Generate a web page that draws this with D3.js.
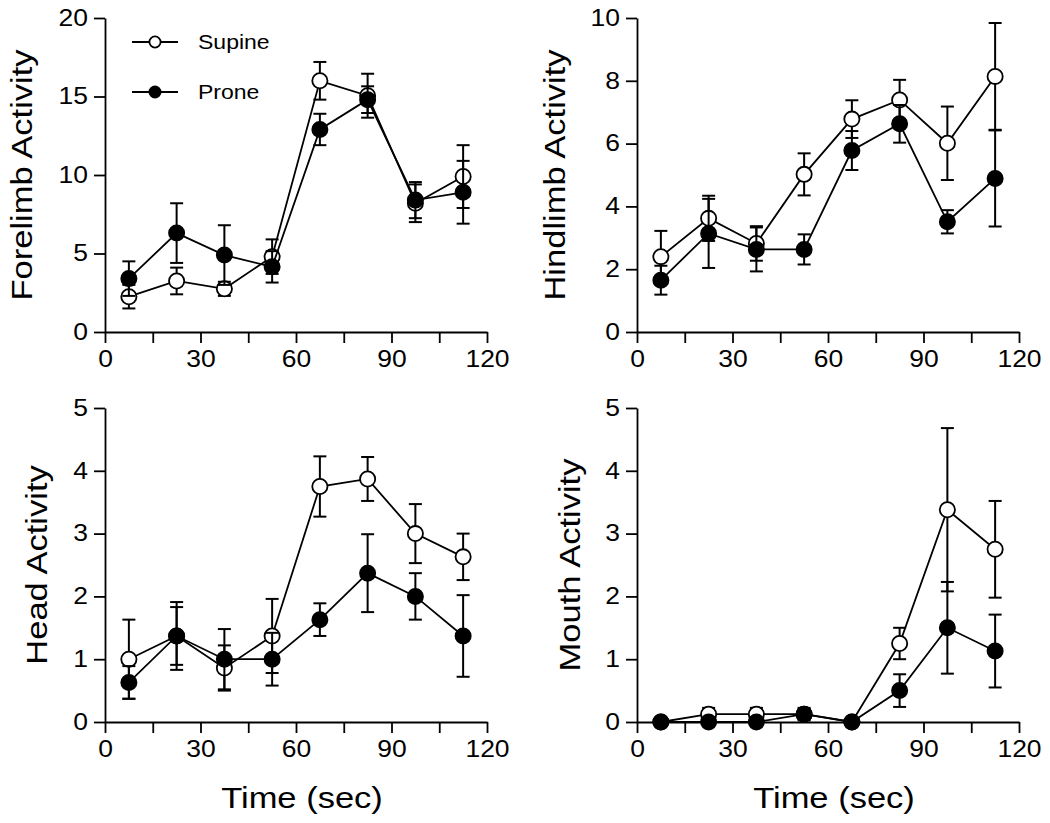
<!DOCTYPE html>
<html>
<head>
<meta charset="utf-8">
<script src="https://cdn.jsdelivr.net/npm/d3@7"></script>
<style>
  html, body { margin: 0; padding: 0; background: #fff; }
  svg { display: block; font-family: "Liberation Sans", Arial, Helvetica, sans-serif; }
</style>
</head>
<body>
<svg id="chart" width="1050" height="823"></svg>
<script>
// ---- data ----
const times = [7.5, 22.5, 37.5, 52.5, 67.5, 82.5, 97.5, 112.5];
const xTicks = [0, 15, 30, 45, 60, 75, 90, 105, 120];
const seriesNames = ["Supine", "Prone"];

const forelimbSupine    = [2.25, 3.25, 2.75, 4.8, 16.0, 15.05, 8.2, 9.9];
const forelimbSupineErr = [0.75, 0.85, 0.45, 1.1, 1.2, 1.4, 1.2, 2.0];
const forelimbProne     = [3.4, 6.3, 4.9, 4.15, 12.9, 14.8, 8.4, 8.9];
const forelimbProneErr  = [1.1, 1.9, 1.9, 1.0, 1.0, 0.85, 1.15, 2.0];
const forelimbTicks = [0, 5, 10, 15, 20];

const hindSupine    = [2.4, 3.62, 2.82, 5.02, 6.78, 7.39, 6.01, 8.14];
const hindSupineErr = [0.82, 0.72, 0.55, 0.67, 0.6, 0.64, 1.17, 1.7];
const hindProne     = [1.65, 3.14, 2.63, 2.63, 5.78, 6.63, 3.51, 4.89];
const hindProneErr  = [0.46, 1.1, 0.7, 0.48, 0.62, 0.6, 0.37, 1.53];
const hindTicks = [0, 2, 4, 6, 8, 10];

const headSupine    = [1.0, 1.37, 0.86, 1.37, 3.75, 3.87, 3.0, 2.63];
const headSupineErr = [0.63, 0.54, 0.36, 0.59, 0.48, 0.35, 0.47, 0.37];
const headProne     = [0.63, 1.37, 1.0, 1.0, 1.63, 2.37, 2.0, 1.37];
const headProneErr  = [0.26, 0.46, 0.48, 0.42, 0.26, 0.62, 0.37, 0.65];
const headTicks = [0, 1, 2, 3, 4, 5];

const mouthSupine    = [0, 0.125, 0.125, 0.125, 0, 1.25, 3.38, 2.75];
const mouthSupineErr = [0, 0.1, 0.1, 0.1, 0, 0.25, 1.3, 0.77];
const mouthProne     = [0, 0, 0, 0.125, 0, 0.5, 1.5, 1.13];
const mouthProneErr  = [0, 0, 0, 0.08, 0, 0.26, 0.73, 0.58];
const mouthTicks = [0, 1, 2, 3, 4, 5];

const panels = [
  {title: "Forelimb Activity", sup: forelimbSupine, supE: forelimbSupineErr, pro: forelimbProne, proE: forelimbProneErr, ticks: forelimbTicks, left: 105, top: 18, titleX: 32, xTitle: false, legend: true},
  {title: "Hindlimb Activity", sup: hindSupine, supE: hindSupineErr, pro: hindProne, proE: hindProneErr, ticks: hindTicks, left: 637, top: 18, titleX: 565, xTitle: false, legend: false},
  {title: "Head Activity", sup: headSupine, supE: headSupineErr, pro: headProne, proE: headProneErr, ticks: headTicks, left: 105, top: 408, titleX: 47, xTitle: true, legend: false},
  {title: "Mouth Activity", sup: mouthSupine, supE: mouthSupineErr, pro: mouthProne, proE: mouthProneErr, ticks: mouthTicks, left: 637, top: 408, titleX: 580, xTitle: true, legend: false}
];

const W = 382, H = 314;
const svg = d3.select("#chart");
const LW = 1.8;

panels.forEach(p => {
  const g = svg.append("g").attr("transform", `translate(${p.left},${p.top})`);
  const x = d3.scaleLinear().domain([0, 120]).range([0, W]);
  const yMax = p.ticks[p.ticks.length - 1];
  const y = d3.scaleLinear().domain([0, yMax]).range([H, 0]);

  const xAxis = d3.axisBottom(x).tickValues(xTicks)
    .tickFormat(d => d % 30 === 0 ? d : "")
    .tickSize(11).tickSizeOuter(0).tickPadding(8);
  const yAxis = d3.axisLeft(y).tickValues(p.ticks)
    .tickFormat(d3.format("d"))
    .tickSize(11).tickSizeOuter(0).tickPadding(6);

  const gx = g.append("g").attr("transform", `translate(0,${H})`).call(xAxis);
  const gy = g.append("g").call(yAxis);
  [gx, gy].forEach(a => {
    a.selectAll("path, line").attr("stroke", "#000").attr("stroke-width", LW);
    a.selectAll("text").attr("font-size", 23).attr("fill", "#000")
      .attr("font-family", "Liberation Sans, Arial, sans-serif").classed("stretch", true);
  });

  // y title
  svg.append("text")
    .attr("transform", `translate(${p.titleX},${p.top + H / 2}) rotate(-90)`)
    .attr("text-anchor", "middle").attr("font-size", 30).attr("fill", "#000")
    .classed("stretch", true).text(p.title);

  if (p.xTitle) {
    svg.append("text")
      .attr("x", p.left + W / 2 + 6).attr("y", p.top + H + 86)
      .attr("text-anchor", "middle").attr("font-size", 30).attr("fill", "#000")
      .classed("stretch", true).text("Time (sec)");
  }

  const series = [
    {vals: p.sup, err: p.supE, fill: "#fff"},
    {vals: p.pro, err: p.proE, fill: "#000"}
  ];
  const line = d3.line().x(d => x(d.t)).y(d => y(d.v));
  series.forEach(s => {
    const data = times.map((t, i) => ({t, v: s.vals[i], e: s.err[i]}));
    const eb = g.append("g");
    data.filter(d => d.e > 0).forEach(d => {
      eb.append("line").attr("x1", x(d.t)).attr("x2", x(d.t))
        .attr("y1", y(d.v - d.e)).attr("y2", y(d.v + d.e))
        .attr("stroke", "#000").attr("stroke-width", 2);
      [d.v - d.e, d.v + d.e].forEach(v => {
        eb.append("line").attr("x1", x(d.t) - 6.5).attr("x2", x(d.t) + 6.5)
          .attr("y1", y(v)).attr("y2", y(v))
          .attr("stroke", "#000").attr("stroke-width", 2);
      });
    });
    g.append("path").datum(data).attr("d", line)
      .attr("fill", "none").attr("stroke", "#000").attr("stroke-width", LW);
    g.selectAll(null).data(data).enter().append("circle")
      .attr("cx", d => x(d.t)).attr("cy", d => y(d.v)).attr("r", 7.6)
      .attr("fill", s.fill).attr("stroke", "#000").attr("stroke-width", LW);
  });

  if (p.legend) {
    const lg = svg.append("g");
    seriesNames.forEach((name, i) => {
      const yy = 42 + i * 50;
      lg.append("line").attr("x1", 132).attr("x2", 178).attr("y1", yy).attr("y2", yy)
        .attr("stroke", "#000").attr("stroke-width", LW);
      lg.append("circle").attr("cx", 155).attr("cy", yy).attr("r", 5.6)
        .attr("fill", i === 0 ? "#fff" : "#000").attr("stroke", "#000").attr("stroke-width", LW);
      lg.append("text").attr("x", 198).attr("y", yy + 7).attr("font-size", 20)
        .attr("fill", "#000").classed("stretch", true).text(name);
    });
  }
});

// widen glyphs to match the reference's wide sans-serif face
svg.selectAll("text.stretch").each(function() {
  const t = d3.select(this);
  if (!t.text()) return;
  const w = this.getComputedTextLength();
  t.attr("textLength", w * 1.15).attr("lengthAdjust", "spacingAndGlyphs");
});
</script>
</body>
</html>
